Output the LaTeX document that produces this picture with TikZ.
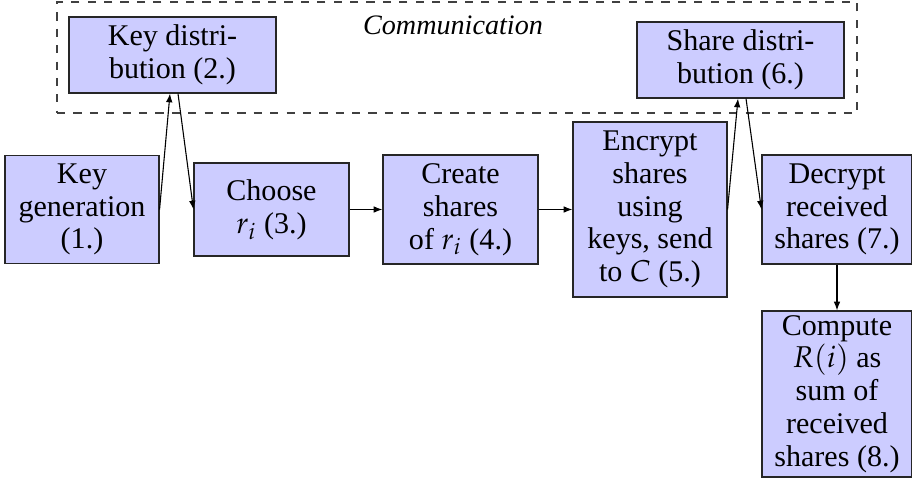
\documentclass[tikz,border=0pt]{standalone}
\usepackage{mathpazo}
\usepackage{fontspec}
\setmainfont{Liberation Serif}
\usetikzlibrary{arrows.meta}
\def\PX{0.366pt}
\tikzset{
  x=0.366pt, y=-0.366pt,
  blk/.style={draw=black!85, fill=blue!20, align=center, inner sep=0pt, line width=0.4pt,
              font=\fontsize{11}{12}\selectfont},
  commbox/.style={draw=black!75, dashed, inner sep=0pt},
  conn/.style={-{Latex[length=3.2pt,width=2.4pt]}, line width=0.4pt},
}
\begin{document}
\begin{tikzpicture}
\useasboundingbox (0,0) rectangle (912,492);
\node[commbox, minimum width=800*\PX, minimum height=111*\PX] (comm) at (457,57.5) {};
\node[font=\fontsize{10.3}{12}\selectfont\itshape] (commlabel) at (453,25) {Communication};

\node[blk, minimum width=154*\PX, minimum height=108*\PX] (keygen) at (82,209.5) {Key\\generation\\(1.)};
\node[blk, minimum width=207*\PX, minimum height=76*\PX] (keydist) at (172.5,55) {Key distri-\\bution (2.)};
\node[blk, minimum width=155*\PX, minimum height=93*\PX] (choose) at (271.5,209.5) {Choose\\$r_i$ (3.)};
\node[blk, minimum width=155*\PX, minimum height=109*\PX] (create) at (460.5,209.5) {Create\\shares\\of $r_i$ (4.)};
\node[blk, minimum width=154*\PX, minimum height=175*\PX] (encrypt) at (650,209.5) {Encrypt\\shares\\using\\keys, send\\to $C$ (5.)};
\node[blk, minimum width=207*\PX, minimum height=76*\PX] (sharedist) at (740.5,60) {Share distri-\\bution (6.)};
\node[blk, minimum width=150*\PX, minimum height=109*\PX] (decrypt) at (837,209.5) {Decrypt\\received\\shares (7.)};
\node[blk, minimum width=150*\PX, minimum height=166*\PX] (compute) at (837,394) {Compute\\$R(i)$ as\\sum of\\received\\shares (8.)};

\draw[conn] (keygen.east) -- ([xshift=-2.5*\PX]keydist.south);
\draw[conn] ([xshift=5.5*\PX]keydist.south) -- (choose.west);
\draw[conn] (choose.east) -- (create.west);
\draw[conn] (create.east) -- (encrypt.west);
\draw[conn] (encrypt.east) -- ([xshift=-2.5*\PX]sharedist.south);
\draw[conn] ([xshift=5.5*\PX]sharedist.south) -- (decrypt.west);
\draw[conn] (decrypt.south) -- (compute.north);
\end{tikzpicture}
\end{document}
